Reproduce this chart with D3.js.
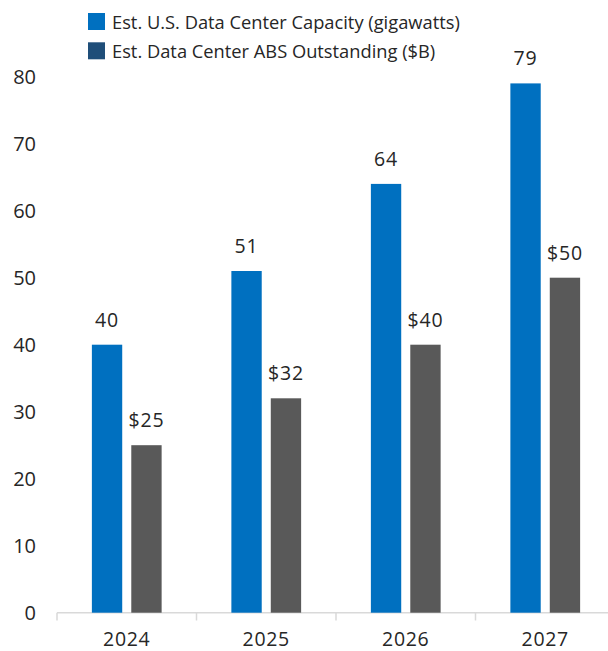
<!DOCTYPE html>
<html><head><meta charset="utf-8">
<script src="https://cdn.jsdelivr.net/npm/d3@7"></script>
<style>body{margin:0;background:#fff;}svg{display:block;font-family:"Open Sans",sans-serif;}</style>
</head><body><svg id="c" width="608" height="651"></svg>
<script>
const categories = ["2024","2025","2026","2027"];
const capacity = [40,51,64,79];
const absOutstanding = [25,32,40,50];
const capacityLabels = ["40","51","64","79"];
const absLabels = ["$25","$32","$40","$50"];
const yTicks = [0,10,20,30,40,50,60,70,80];
const seriesNames = ["Est. U.S. Data Center Capacity (gigawatts)","Est. Data Center ABS Outstanding ($B)"];

const svg = d3.select("#c");
const textColor = "#262626";
const x = d3.scaleBand().domain(categories).range([57,615]).paddingInner(0).paddingOuter(0);
const y = d3.scaleLinear().domain([0,80]).range([612.7,76.7]);
const sub = d3.scaleBand().domain(["cap","abs"]).range([x.bandwidth()*0.25, x.bandwidth()*0.75]).paddingInner(0.23);

// axis line & ticks
const xAxis = d3.axisBottom(x).tickSize(8).tickFormat(d=>d);
const gx = svg.append("g").attr("transform","translate(0,612.7)").call(xAxis);
gx.select(".domain").remove();
gx.selectAll(".tick line").remove();
svg.append("line").attr("x1",57).attr("x2",615).attr("y1",612.7).attr("y2",612.7).attr("stroke","#d9d9d9").attr("stroke-width",1.5);
categories.concat(["end"]).forEach((c,i)=>{
  const xx = 57 + i*x.step();
  svg.append("line").attr("x1",xx).attr("x2",xx).attr("y1",612.7).attr("y2",620.5).attr("stroke","#d9d9d9").attr("stroke-width",1.5);
});
gx.selectAll(".tick text").attr("fill",textColor).attr("font-size","19.5px").attr("dy",0).attr("y",33.5).attr("letter-spacing","0.7px").attr("font-family","'Open Sans',sans-serif");

// y axis labels
const gy = svg.append("g").attr("transform","translate(36,0)").call(d3.axisLeft(y).tickValues(yTicks).tickSize(0).tickPadding(0));
gy.select(".domain").remove();
gy.selectAll(".tick text").attr("fill",textColor).attr("font-size","20px").attr("font-family","'Open Sans',sans-serif");

// bars
const g = svg.append("g");
categories.forEach((c,i)=>{
  const x0 = x(c);
  g.append("rect").attr("x",x0+sub("cap")).attr("width",sub.bandwidth()).attr("y",y(capacity[i])).attr("height",y(0)-y(capacity[i])).attr("fill","#0070C0");
  g.append("rect").attr("x",x0+sub("abs")).attr("width",sub.bandwidth()).attr("y",y(absOutstanding[i])).attr("height",y(0)-y(absOutstanding[i])).attr("fill","#595959");
  g.append("text").attr("x",x0+sub("cap")+sub.bandwidth()/2).attr("y",y(capacity[i])-18).attr("text-anchor","middle").attr("font-size","19.5px").attr("fill",textColor).attr("letter-spacing","0.8px").text(capacityLabels[i]);
  g.append("text").attr("x",x0+sub("abs")+sub.bandwidth()/2).attr("y",y(absOutstanding[i])-18).attr("text-anchor","middle").attr("font-size","19.5px").attr("fill",textColor).attr("letter-spacing","0.8px").text(absLabels[i]);
});

// legend
const legColors = ["#0070C0","#1F4E79"];
seriesNames.forEach((n,i)=>{
  const yy = 13 + i*29.3;
  svg.append("rect").attr("x",88).attr("y",yy).attr("width",17).attr("height",17).attr("fill",legColors[i]);
  svg.append("text").attr("x",112).attr("y",yy+15.5).attr("font-size","18.3px").attr("fill",textColor).text(n);
});
</script></body></html>
